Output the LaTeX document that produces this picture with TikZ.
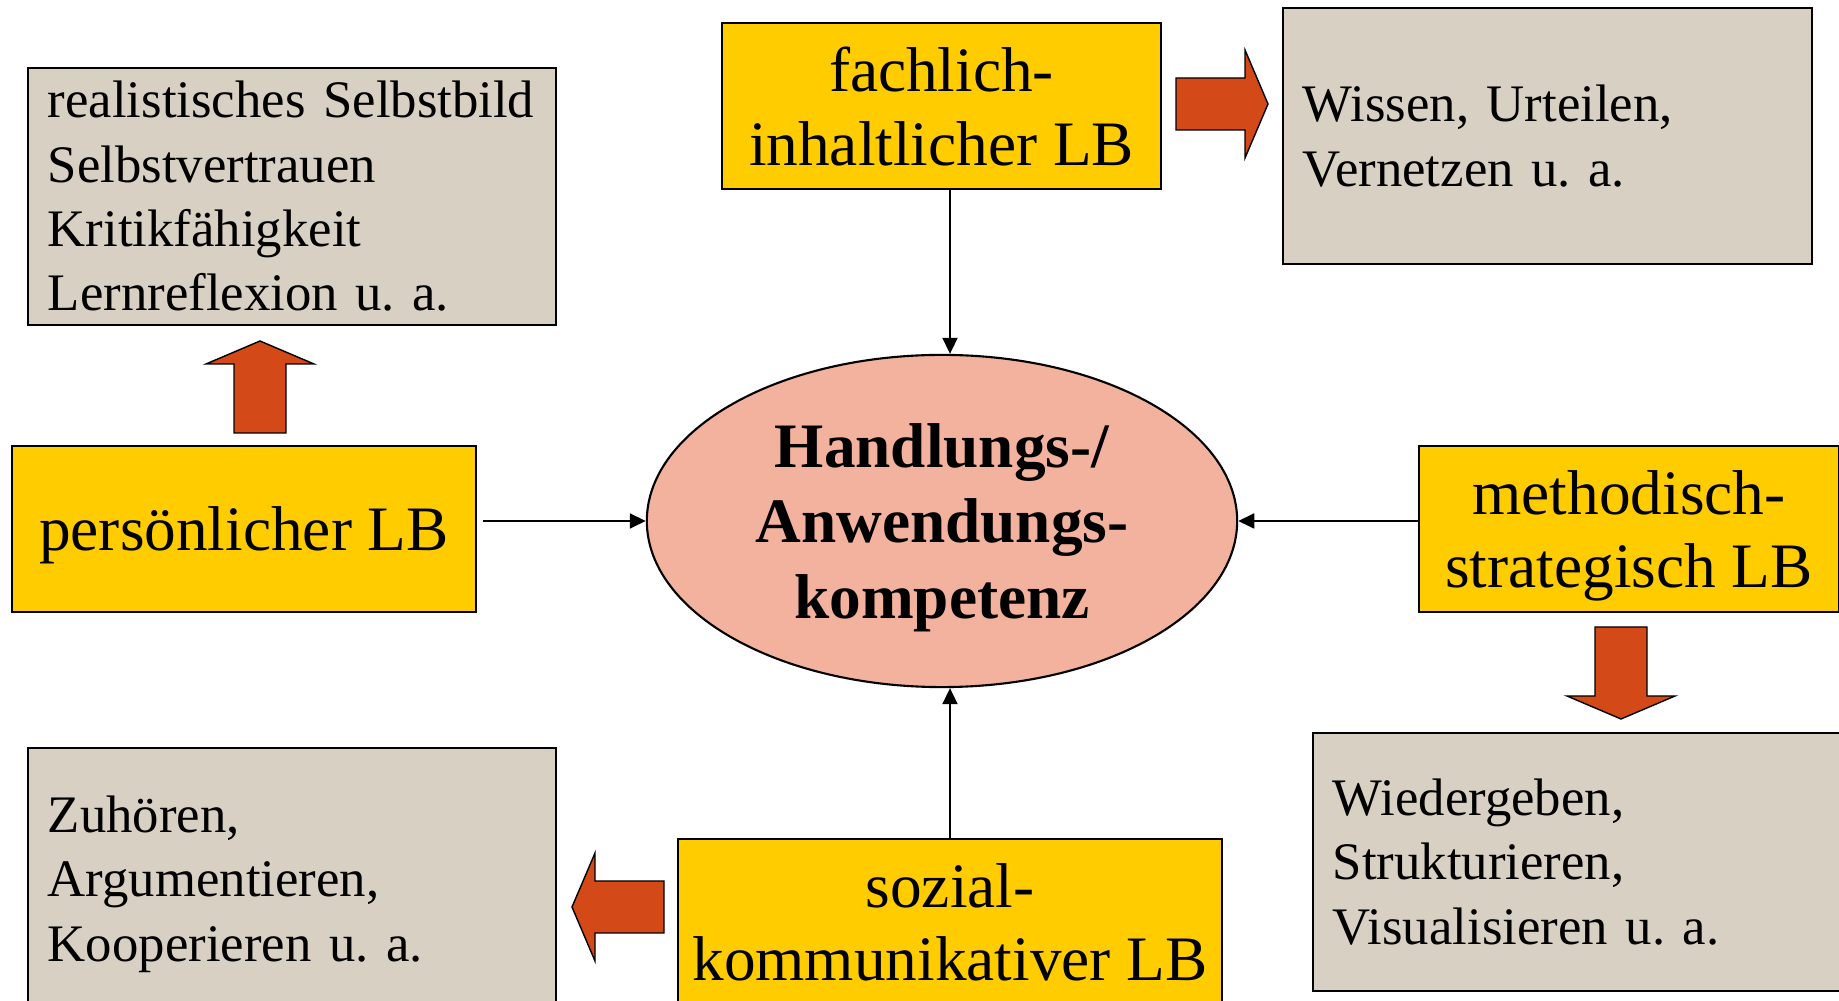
\documentclass[tikz,border=0pt]{standalone}
\usepackage{fontspec}
\setmainfont{Liberation Serif}
\frenchspacing
\usetikzlibrary{arrows.meta,shapes.geometric}
\definecolor{kgelb}{RGB}{255,204,0}
\definecolor{kgrau}{RGB}{216,208,194}
\definecolor{korange}{RGB}{211,74,24}
\definecolor{klachs}{RGB}{243,178,158}
\tikzset{kompsec/.style={x=0.01cm,y=-0.01cm}}
\tikzset{lbbox/.style={draw,fill=kgelb,line width=0.6pt,align=center,inner sep=0pt,
                       text depth=0pt,font=\fontsize{18}{21}\selectfont},
         infobox/.style={draw,fill=kgrau,line width=0.6pt,align=left,inner xsep=0.2cm,
                       inner ysep=0pt,font=\fontsize{15}{18.3}\selectfont},
         pfeil/.style={-{Triangle[length=0.16cm,width=0.15cm]},line width=0.5pt},
         blockpfeil/.pic={\filldraw[fill=korange,draw=black,line width=0.4pt]
             (0,0) -- (-23,-54) -- (-23,-26) -- (-92,-26) -- (-92,26) -- (-23,26) -- (-23,54) -- cycle;}}

\begin{document}
\begin{tikzpicture}[kompsec]
    \useasboundingbox (0,0) rectangle (1839,1001);
    \clip (0,0) rectangle (1839,1001);
    % Kern
    \node[draw,fill=klachs,ellipse,line width=0.6pt,minimum width=5.9cm,minimum height=3.32cm,
          inner sep=0pt,align=center,text depth=0pt,font=\fontsize{18}{21.5}\selectfont\bfseries]
          (kern) at (942,521) {Handlungs-/\\Anwendungs-\\kompetenz};
    % Lernbereiche
    \node[lbbox,minimum width=4.39cm,minimum height=1.66cm] (fach) at (941.5,106) {fachlich-\\inhaltlicher LB};
    \node[lbbox,minimum width=4.64cm,minimum height=1.66cm] (pers) at (244,529) {persönlicher LB};
    \node[lbbox,minimum width=4.20cm,minimum height=1.66cm] (meth) at (1629,529) {methodisch-\\strategisch LB};
    \node[lbbox,minimum width=5.44cm,minimum height=1.66cm] (soz)  at (950,922) {sozial-\\kommunikativer LB};
    % Beispiele
    \node[infobox,text width=4.88cm,minimum height=2.57cm] (selbst) at (292,196.5)
        {realistisches Selbstbild\\Selbstvertrauen\\Kritikfähigkeit\\Lernreflexion u. a.};
    \node[infobox,text width=4.89cm,minimum height=2.56cm] (wissen) at (1547.5,136)
        {Wissen, Urteilen,\\Vernetzen u. a.};
    \node[infobox,text width=4.88cm,minimum height=2.72cm] (zuhoeren) at (292,884)
        {Zuhören,\\Argumentieren,\\Kooperieren u. a.};
    \node[infobox,text width=4.89cm,minimum height=2.58cm] (wieder) at (1577.5,862)
        {Wiedergeben,\\Strukturieren,\\Visualisieren u. a.};
    \draw[pfeil,shorten <=0.06cm] (pers.east |- kern) -- (kern.west);
    \draw[pfeil] (meth.west |- kern) -- (kern.east);
    \draw[pfeil] (fach.south -| soz) -- (kern.north -| soz);
    \draw[pfeil] (soz.north) -- (kern.south -| soz);
    \pic[rotate=90]  at (260,341)  {blockpfeil};
    \pic             at (1268,104) {blockpfeil};
    \pic[rotate=-90] at (1621,719) {blockpfeil};
    \pic[rotate=180] at (572,907)  {blockpfeil};
\end{tikzpicture}
\end{document}
